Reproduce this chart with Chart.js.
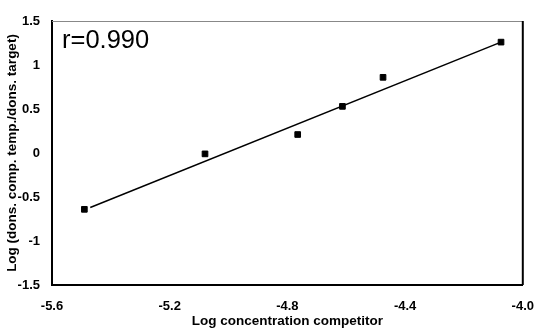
<!DOCTYPE html>
<html>
<head>
<script src="https://cdn.jsdelivr.net/npm/chart.js@4"></script>
<style>
html, body { margin:0; padding:0; background:#fff; }
#wrap { width:540px; height:329px; }
</style>
</head>
<body>
<div id="wrap"><canvas id="myChart" width="540" height="329"></canvas></div>
<script>
// data points
let logConc = [-5.49, -5.08, -4.765, -4.613, -4.475, -4.074];
let logRatio = [-0.64, -0.01, 0.21, 0.53, 0.86, 1.26];
// regression line ends
let fitX = [-5.47, -4.074];
let fitY = [-0.62, 1.26];
let xTicks = [-5.6, -5.2, -4.8, -4.4, -4.0];
let yTicks = [1.5, 1, 0.5, 0, -0.5, -1, -1.5];
let rText = 'r=0.990';

let punkty = logConc.map((x, i) => ({x: x, y: logRatio[i]}));
let linia = fitX.map((x, i) => ({x: x, y: fitY[i]}));

const ramka = {
    id: 'ramka',
    afterDraw(chart) {
        const c = chart.ctx, a = chart.chartArea;
        c.save();
        c.strokeStyle = '#888';
        c.lineWidth = 1;
        c.beginPath(); c.moveTo(a.left, a.top + 0.5); c.lineTo(a.right, a.top + 0.5); c.stroke();
        c.strokeStyle = '#000';
        c.lineWidth = 2;
        c.beginPath(); c.moveTo(a.right, a.top); c.lineTo(a.right, a.bottom); c.stroke();
        c.font = '25.5px "Liberation Sans", Arial, sans-serif';
        c.fillStyle = '#000';
        c.textBaseline = 'middle';
        c.fillText(rText, a.left + 10, a.top + 20);
        c.restore();
    }
};

const ctx = document.getElementById('myChart').getContext('2d');
new Chart(ctx, {
    type: 'scatter',
    data: {
        datasets: [{
            data: linia,
            type: 'line',
            showLine: true,
            borderColor: '#000',
            borderWidth: 1.5,
            pointRadius: 0,
            fill: false
        }, {
            data: punkty,
            pointStyle: 'rect',
            pointRadius: 4,
            backgroundColor: '#000',
            borderColor: '#000'
        }]
    },
    options: {
        responsive: false,
        animation: false,
        plugins: { legend: { display: false }, tooltip: { enabled: false } },
        layout: { padding: { top: 21, right: 13, left: 0, bottom: 0 } },
        scales: {
            x: {
                type: 'linear',
                min: -5.6, max: -4.0,
                afterBuildTicks: s => { s.ticks = xTicks.map(v => ({value: v})); },
                afterFit: s => { s.height = 44; },
                grid: { display: false },
                border: { display: true, color: '#000', width: 2 },
                ticks: {
                    color: '#000',
                    padding: 6,
                    font: { family: '"Liberation Sans", Arial', size: 13, weight: 'bold' },
                    callback: v => v === -4 ? '-4.0' : String(v)
                },
                title: {
                    display: true,
                    text: 'Log concentration competitor',
                    color: '#000',
                    padding: { top: 0, bottom: 0 },
                    font: { family: '"Liberation Sans", Arial', size: 13.5, weight: 'bold' }
                }
            },
            y: {
                min: -1.5, max: 1.5,
                afterBuildTicks: s => { s.ticks = yTicks.map(v => ({value: v})); },
                afterFit: s => { s.width = 52; },
                grid: { display: false },
                border: { display: true, color: '#000', width: 2 },
                ticks: {
                    color: '#000',
                    padding: 4,
                    font: { family: '"Liberation Sans", Arial', size: 13, weight: 'bold' },
                    callback: v => String(v)
                },
                title: {
                    display: true,
                    text: 'Log (dons. comp. temp./dons. target)',
                    color: '#000',
                    padding: { top: 4, bottom: 0 },
                    font: { family: '"Liberation Sans", Arial', size: 13.5, weight: 'bold' }
                }
            }
        }
    },
    plugins: [ramka]
});
</script>
</body>
</html>
